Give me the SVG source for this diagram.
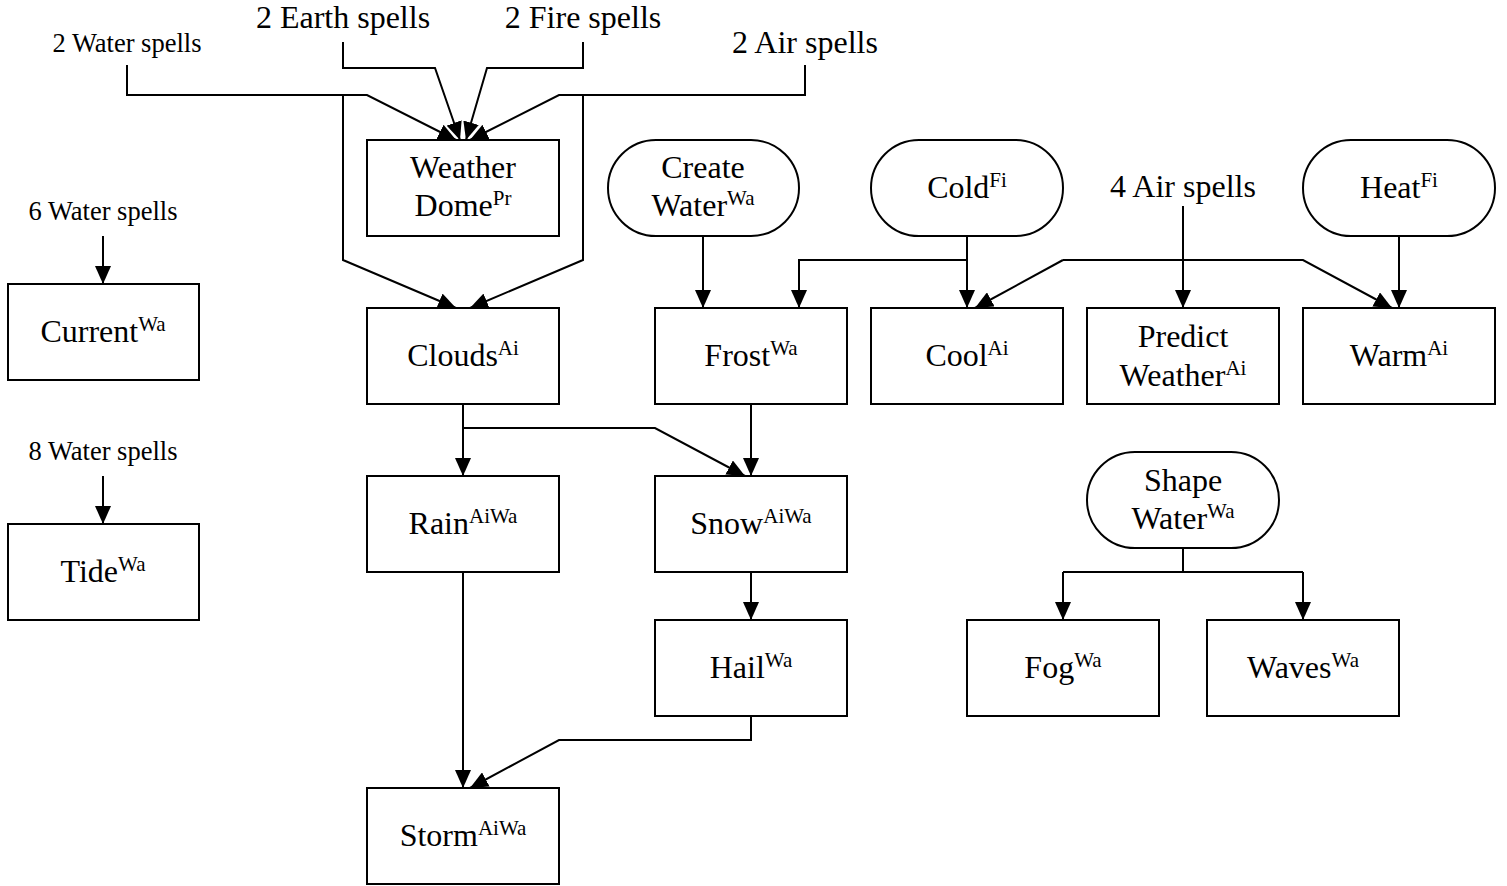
<svg xmlns="http://www.w3.org/2000/svg" width="1507" height="886" viewBox="0 0 1507 886">
<style>
.box{fill:#fff;stroke:#000;stroke-width:2}
.t{font-family:"Liberation Serif","Times New Roman",serif;font-size:32px;fill:#000;text-anchor:middle}
.s{font-size:21px}
.lbl{font-family:"Liberation Serif","Times New Roman",serif;font-size:32px;fill:#000;text-anchor:middle}
.sm{font-size:26.5px}
.c{fill:none;stroke:#000;stroke-width:2}
.a{marker-end:url(#ah)}
</style>
<defs>
<marker id="ah" markerUnits="userSpaceOnUse" markerWidth="18" markerHeight="16" refX="18" refY="8" orient="auto">
<path d="M0,0 L18,8 L0,16 z" fill="#000"/>
</marker>
</defs>
<rect width="1507" height="886" fill="#fff"/>
<g id="connectors">
<text class="lbl sm" x="127" y="52">2 Water spells</text>
<text class="lbl" x="343" y="28">2 Earth spells</text>
<text class="lbl" x="583" y="28">2 Fire spells</text>
<text class="lbl" x="805" y="53">2 Air spells</text>
<text class="lbl sm" x="103" y="220">6 Water spells</text>
<text class="lbl sm" x="103" y="460">8 Water spells</text>
<text class="lbl" x="1183" y="197">4 Air spells</text>
<path class="c a" d="M127,65 V95 H367 L456,140"/>
<path class="c a" d="M343,42 V68 H435 L460,140"/>
<path class="c a" d="M583,42 V68 H487 L466,140"/>
<path class="c a" d="M805,65 V95 H559 L470,140"/>
<path class="c a" d="M343,95 V260 L456,308"/>
<path class="c a" d="M583,95 V260 L470,308"/>
<path class="c a" d="M103,236 V284"/>
<path class="c a" d="M103,476 V524"/>
<path class="c a" d="M703,236 V308"/>
<path class="c a" d="M967,236 V308"/>
<path class="c a" d="M967,260 H799 V308"/>
<path class="c a" d="M1183,206 V308"/>
<path class="c a" d="M1063,260 L975,308"/>
<path class="c a" d="M1063,260 H1303 L1392,308"/>
<path class="c a" d="M1399,236 V308"/>
<path class="c a" d="M463,404 V476"/>
<path class="c a" d="M463,428 H655 L745,476"/>
<path class="c a" d="M751,404 V476"/>
<path class="c a" d="M751,572 V620"/>
<path class="c a" d="M463,572 V788"/>
<path class="c a" d="M751,716 V740 H559 L470,788"/>
<path class="c" d="M1183,548 V572 M1063,572 H1303"/>
<path class="c a" d="M1063,572 V620"/>
<path class="c a" d="M1303,572 V620"/>
</g>
<g id="weather-dome"><rect class="box" x="367" y="140" width="192" height="96"/><text class="t" x="463" y="178">Weather</text><text class="t" x="463" y="216">Dome<tspan class="s" dy="-11">Pr</tspan></text></g>
<g id="create-water"><rect class="box" x="608" y="140" width="191" height="96" rx="48"/><text class="t" x="703" y="178">Create</text><text class="t" x="703" y="216">Water<tspan class="s" dy="-11">Wa</tspan></text></g>
<g id="cold"><rect class="box" x="871" y="140" width="192" height="96" rx="48"/><text class="t" x="967" y="198">Cold<tspan class="s" dy="-11">Fi</tspan></text></g>
<g id="heat"><rect class="box" x="1303" y="140" width="192" height="96" rx="48"/><text class="t" x="1399" y="198">Heat<tspan class="s" dy="-11">Fi</tspan></text></g>
<g id="current"><rect class="box" x="8" y="284" width="191" height="96"/><text class="t" x="103" y="342">Current<tspan class="s" dy="-11">Wa</tspan></text></g>
<g id="clouds"><rect class="box" x="367" y="308" width="192" height="96"/><text class="t" x="463" y="366">Clouds<tspan class="s" dy="-11">Ai</tspan></text></g>
<g id="frost"><rect class="box" x="655" y="308" width="192" height="96"/><text class="t" x="751" y="366">Frost<tspan class="s" dy="-11">Wa</tspan></text></g>
<g id="cool"><rect class="box" x="871" y="308" width="192" height="96"/><text class="t" x="967" y="366">Cool<tspan class="s" dy="-11">Ai</tspan></text></g>
<g id="predict-weather"><rect class="box" x="1087" y="308" width="192" height="96"/><text class="t" x="1183" y="347">Predict</text><text class="t" x="1183" y="386">Weather<tspan class="s" dy="-11">Ai</tspan></text></g>
<g id="warm"><rect class="box" x="1303" y="308" width="192" height="96"/><text class="t" x="1399" y="366">Warm<tspan class="s" dy="-11">Ai</tspan></text></g>
<g id="tide"><rect class="box" x="8" y="524" width="191" height="96"/><text class="t" x="103" y="582">Tide<tspan class="s" dy="-11">Wa</tspan></text></g>
<g id="rain"><rect class="box" x="367" y="476" width="192" height="96"/><text class="t" x="463" y="534">Rain<tspan class="s" dy="-11">AiWa</tspan></text></g>
<g id="snow"><rect class="box" x="655" y="476" width="192" height="96"/><text class="t" x="751" y="534">Snow<tspan class="s" dy="-11">AiWa</tspan></text></g>
<g id="shape-water"><rect class="box" x="1087" y="452" width="192" height="96" rx="48"/><text class="t" x="1183" y="491">Shape</text><text class="t" x="1183" y="529">Water<tspan class="s" dy="-11">Wa</tspan></text></g>
<g id="hail"><rect class="box" x="655" y="620" width="192" height="96"/><text class="t" x="751" y="678">Hail<tspan class="s" dy="-11">Wa</tspan></text></g>
<g id="fog"><rect class="box" x="967" y="620" width="192" height="96"/><text class="t" x="1063" y="678">Fog<tspan class="s" dy="-11">Wa</tspan></text></g>
<g id="waves"><rect class="box" x="1207" y="620" width="192" height="96"/><text class="t" x="1303" y="678">Waves<tspan class="s" dy="-11">Wa</tspan></text></g>
<g id="storm"><rect class="box" x="367" y="788" width="192" height="96"/><text class="t" x="463" y="846">Storm<tspan class="s" dy="-11">AiWa</tspan></text></g>
</svg>
